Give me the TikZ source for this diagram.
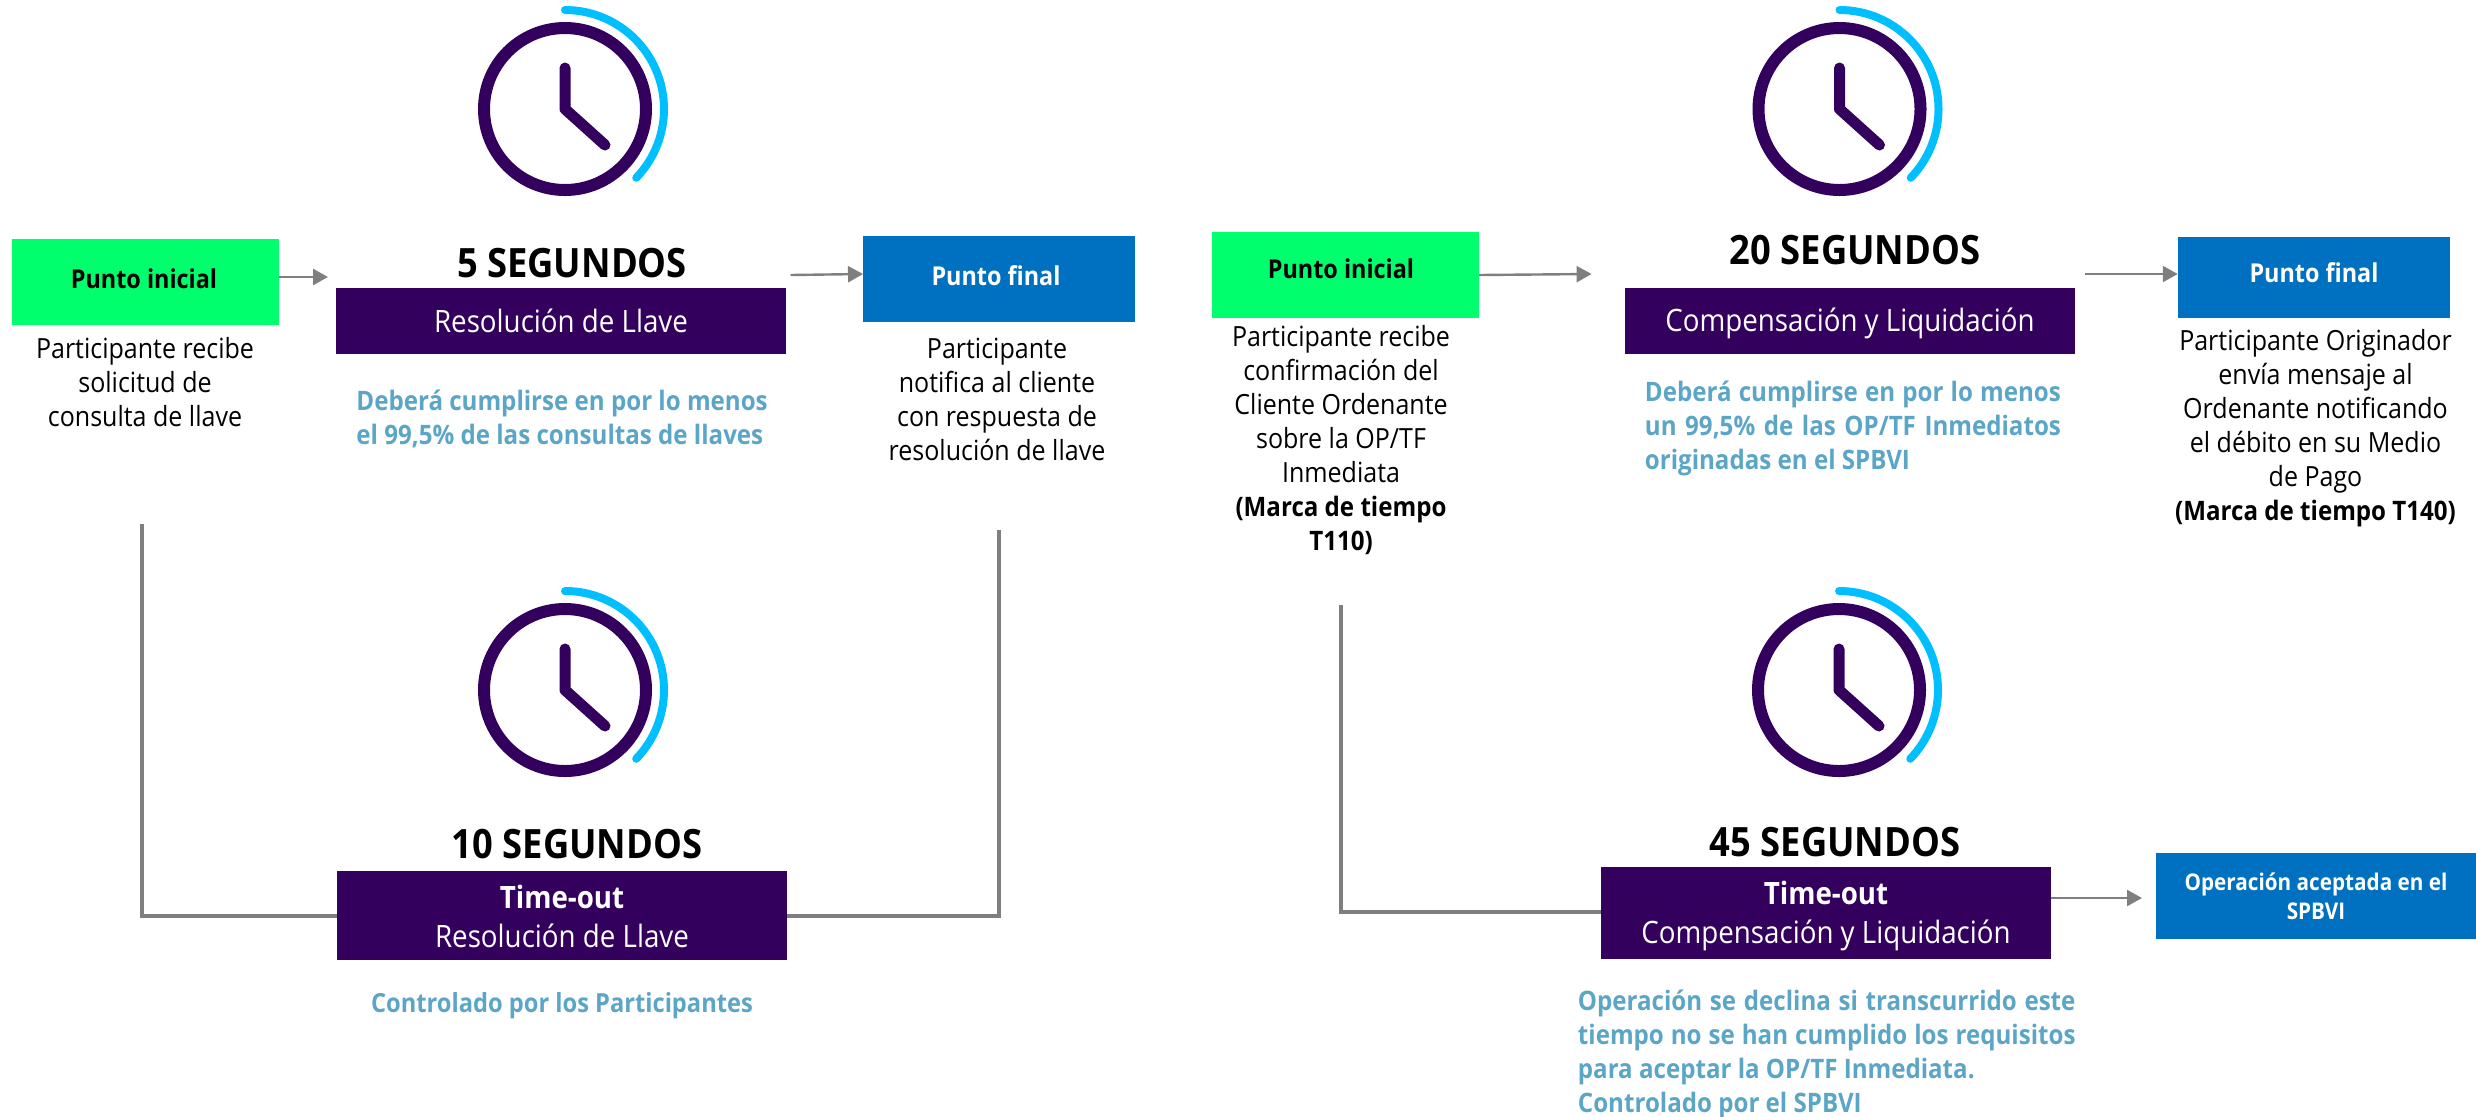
\documentclass[tikz,border=0pt]{standalone}
\usepackage{fontspec}
\setmainfont{Open Sans}
\usetikzlibrary{arrows.meta,calc}
\definecolor{deep}{HTML}{33005E}
\definecolor{ringc}{HTML}{00BFFF}
\definecolor{startg}{HTML}{00FF6C}
\definecolor{endb}{HTML}{0070C0}
\definecolor{note}{HTML}{5BA5C7}
\definecolor{wire}{HTML}{7F7F7F}
\newfontfamily\bodyf[FakeStretch=0.90]{Open Sans}
\newcommand\sized[2]{\fontsize{#1}{#2}\selectfont}
\newcommand\jl[2]{\makebox[#1][s]{#2}}
\newcommand\nudged[2]{\raisebox{#1}[\height][\depth]{\begin{tabular}{@{}c@{}}#2\end{tabular}}}
\newcommand\clockicon[2]{%
  \draw[deep,line width=6pt] (#1,#2) circle[radius=40.5pt];
  \draw[deep,line width=5.5pt,line cap=round,line join=round] (#1,#2) ++(0pt,20.5pt) -- (#1,#2) -- ++(20pt,-18pt);
  \draw[ringc,line width=4pt,line cap=round] (#1,#2) ++(0pt,49.5pt) arc[start angle=90,end angle=-44,radius=49.5pt];
}
\tikzset{
  x=0.5pt,y=-0.5pt,
  boxn/.style={minimum width=#1*0.5pt,inner sep=0pt,outer sep=0pt,align=center},
  startbox/.style={fill=startg,text=black,font=\bodyf\bfseries\sized{13}{17}},
  endbox/.style={fill=endb,text=white,font=\bodyf\bfseries\sized{13}{17}},
  phasebox/.style={fill=deep,text=white,font=\bodyf\sized{15.4}{19.5}},
  title/.style={font=\bodyf\bfseries\sized{20.2}{24},text=black,inner sep=0pt},
  caption/.style={font=\bodyf\sized{13.9}{17},text=black,align=center,inner sep=0pt},
  notetext/.style={font=\bodyf\bfseries\sized{13.4}{17},text=note,align=left,inner sep=0pt},
  flow/.style={wire,line width=1.2pt,-{Triangle[length=7.5pt,width=8pt]}},
  frame/.style={wire,line width=2pt},
}
\begin{document}
\begin{tikzpicture}
\useasboundingbox (0,0) rectangle (2476,1116);
% boxes
\node[boxn=267,minimum height=43pt,startbox] (g1) at (145.5,282) {\hspace*{-1.5pt}\nudged{0pt}{Punto inicial}};
\node[boxn=450,minimum height=33pt,phasebox] (p1) at (561,321) {Resolución de Llave};
\node[boxn=272,minimum height=43pt,endbox] (b1) at (999,279) {\hspace*{-3pt}\nudged{0pt}{Punto final}};
\node[boxn=450,minimum height=44.5pt,phasebox] (p2) at (562,915.5) {\nudged{-2.2pt}{{\bfseries Time-out}\\Resolución de Llave}};
\node[boxn=267,minimum height=43pt,startbox] (g2) at (1345.5,275) {\hspace*{-4.5pt}\nudged{1.5pt}{Punto inicial}};
\node[boxn=450,minimum height=33pt,phasebox] (p3) at (1850,321) {\nudged{-1.5pt}{Compensación y Liquidación}};
\node[boxn=272.5,minimum height=40.5pt,endbox] (b2) at (2314,277.5) {\nudged{0.8pt}{Punto final}};
\node[boxn=450,minimum height=46pt,phasebox] (p4) at (1826,913) {\nudged{-1.8pt}{{\bfseries Time-out}\\Compensación y Liquidación}};
\node[boxn=320,minimum height=43pt,endbox,font=\bodyf\bfseries\sized{11.5}{14.5}] (b3) at (2316,896) {Operación aceptada en el\\SPBVI};
% clocks
\clockicon{565}{109}
\clockicon{565}{690}
\clockicon{1839.5}{109}
\clockicon{1839}{690}
% titles
\node[title] (t1) at (572,263) {5 SEGUNDOS};
\node[title] (t2) at (577,844) {10 SEGUNDOS};
\node[title] (t3) at (1855,250) {20 SEGUNDOS};
\node[title] (t4) at (1835,842) {45 SEGUNDOS};
% captions
\node[caption] (c1) at (145,382) {Participante recibe\\solicitud de\\consulta de llave};
\node[caption] (c2) at (997,399) {Participante\\notifica al cliente\\con respuesta de\\resolución de llave};
\node[caption] (c3) at (1341,440) {Participante recibe\\confirmación del\\Cliente Ordenante\\sobre la OP/TF\\Inmediata\\{\fontsize{13.4}{17}\selectfont\bfseries (Marca de tiempo}\\{\fontsize{13.4}{17}\selectfont\bfseries T110)}};
\node[caption] (c4) at (2315.5,428) {Participante Originador\\envía mensaje al\\Ordenante notificando\\el débito en su Medio\\de Pago\\{\fontsize{13.4}{17}\selectfont\bfseries (Marca de tiempo T140)}};
% notes
\node[notetext,anchor=west] (n1) at (356,419) {Deberá cumplirse en por lo menos\\el 99,5\% de las consultas de llaves};
\node[notetext,font=\bodyf\bfseries\sized{13.15}{17}] (n2) at (562,1006) {Controlado por los Participantes};
\node[notetext,anchor=west] (n3) at (1644.5,428.5) {\jl{208pt}{Deberá cumplirse en por lo menos}\\\jl{208pt}{un 99,5\% de las OP/TF Inmediatos}\\originadas en el SPBVI};
\node[notetext,anchor=west] (n4) at (1577.5,1054) {\jl{248.8pt}{Operación se declina si transcurrido este}\\\jl{248.8pt}{tiempo no se han cumplido los requisitos}\\para aceptar la OP/TF Inmediata.\\Controlado por el SPBVI};
% connector ends
\coordinate (a1e) at (328,277);
\coordinate (a2s) at (790.5,275);
\coordinate (a3e) at (1591.6,274);
\coordinate (a4s) at (2085,274);
\coordinate (a5e) at (2142,898);
\coordinate (f1) at (141.5,524);
\coordinate (f2) at (999,530);
\coordinate (f3) at (1341,605);
\draw[flow] (g1.east |- a1e) -- (a1e);
\draw[flow] (a2s) -- (b1.west |- 0,274);
\draw[flow] (g2.east |- 0,275) -- (a3e);
\draw[flow] (a4s) -- (b2.west |- a4s);
\draw[flow] (p4.east |- a5e) -- (a5e);
\draw[frame] (f1) |- (p2.west |- 0,916);
\draw[frame] (f2) |- (p2.east |- 0,916);
\draw[frame] (f3) |- (p4.west |- 0,912);
\end{tikzpicture}
\end{document}
